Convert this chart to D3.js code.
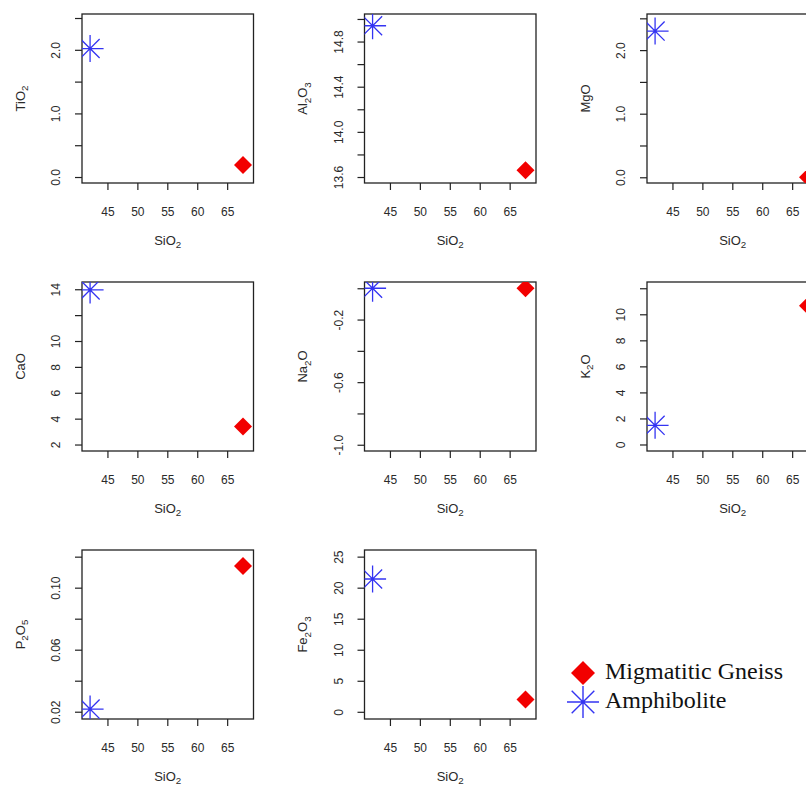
<!DOCTYPE html>
<html>
<head>
<meta charset="utf-8">
<script src="https://cdn.jsdelivr.net/npm/d3@7"></script>
<style>
  body { margin: 0; background: #fff; }
  svg { display: block; }
  text { font-family: "Liberation Sans", Arial, sans-serif; fill: #2a2a2a; }
  .axis path, .axis line { stroke: #222; stroke-width: 1.2; }
  .box { fill: none; stroke: #222; stroke-width: 1.3; }
  .legend text { font-family: "Liberation Serif", "Times New Roman", serif; fill: #111; }
</style>
</head>
<body>
<svg id="chart"></svg>
<script>
// whole-rock analyses (wt%)
const oxides = ["TiO2", "Al2O3", "MgO", "CaO", "Na2O", "K2O", "P2O5", "Fe2O3"];
const rockTypes = ["Migmatitic Gneiss", "Amphibolite"];
const silica = [67.65, 42.1];
const gneiss = [0.19, 13.66, 0.0, 3.4, 0.0, 10.65, 0.114, 2.0];
const amphibolite = [2.02, 14.94, 2.3, 13.95, 0.0, 1.47, 0.0217, 21.4];

// axis limits and ticks
const silicaRange = [40.75, 69.4];
const silicaTicks = [45, 50, 55, 60, 65];
const oxideRanges = [
  [-0.094, 2.563], [13.547, 15.044], [-0.09, 2.568], [1.5, 14.56],
  [-1.04, 0.04], [-0.5, 12.48], [0.0153, 0.1243], [-1.16, 26.07]
];
const oxideTicks = [
  [0, 0.5, 1, 1.5, 2, 2.5],
  [13.6, 13.8, 14, 14.2, 14.4, 14.6, 14.8, 15],
  [0, 0.5, 1, 1.5, 2, 2.5],
  [2, 4, 6, 8, 10, 12, 14],
  [-1, -0.8, -0.6, -0.4, -0.2, 0],
  [0, 2, 4, 6, 8, 10, 12],
  [0.02, 0.04, 0.06, 0.08, 0.1, 0.12],
  [0, 5, 10, 15, 20, 25]
];
const oxideTickLabels = [
  ["0.0", "", "1.0", "", "2.0", ""],
  ["13.6", "", "14.0", "", "14.4", "", "14.8", ""],
  ["0.0", "", "1.0", "", "2.0", ""],
  ["2", "4", "6", "8", "10", "", "14"],
  ["-1.0", "", "-0.6", "", "-0.2", ""],
  ["0", "2", "4", "6", "8", "10", ""],
  ["0.02", "", "0.06", "", "0.10", ""],
  ["0", "5", "10", "15", "20", "25"]
];

const W = 806, H = 789;
const svg = d3.select("#chart").attr("width", W).attr("height", H);
svg.append("rect").attr("width", W).attr("height", H).attr("fill", "#fff");

const boxW = 171.5, boxH = 169;
const colStep = 282.5, rowStep = 268;
const left0 = 82, top0 = 14;
const colors = ["#f20000", "#3434f2"];

const diamond = (r) => `M0,${-r}L${r},0L0,${r}L${-r},0Z`;
const star = (r) => {
  const a = r * 0.7071;
  return `M${-r},0H${r}M0,${-r}V${r}M${-a},${-a}L${a},${a}M${-a},${a}L${a},${-a}`;
};

// chemical formula with subscripted digits, vertically centred on the anchor
function formula(sel, name, size) {
  let shift = -size * 0.35;
  name.split(/(\d+)/).filter((s) => s).forEach((part) => {
    const sub = /^\d+$/.test(part);
    const dy = sub ? size * 0.3 : -shift;
    shift = sub ? size * 0.3 : 0;
    sel.append("tspan")
      .attr("font-size", sub ? size * 0.75 : size)
      .attr("dy", dy)
      .text(part);
  });
}

const x = d3.scaleLinear().domain(silicaRange).range([0, boxW]);

oxides.forEach((ox, i) => {
  const col = i % 3, row = Math.floor(i / 3);
  const g = svg.append("g")
    .attr("transform", `translate(${left0 + col * colStep},${top0 + row * rowStep})`);
  const y = d3.scaleLinear().domain(oxideRanges[i]).range([boxH, 0]);

  g.append("clipPath").attr("id", "clip" + i)
    .append("rect").attr("width", boxW).attr("height", boxH);

  // x axis
  const xa = g.append("g").attr("class", "axis")
    .attr("transform", `translate(0,${boxH})`)
    .call(d3.axisBottom(x).tickValues(silicaTicks).tickSize(7).tickSizeOuter(0));
  xa.select(".domain").remove();
  xa.selectAll("text").attr("y", 29).attr("dy", "0.35em").attr("font-size", 12).attr("fill", "#2a2a2a");

  // y axis, labels parallel to the axis; skipped labels are dropped
  const ya = g.append("g").attr("class", "axis")
    .call(d3.axisLeft(y).tickValues(oxideTicks[i]).tickSize(7).tickSizeOuter(0)
      .tickFormat((d, k) => oxideTickLabels[i][k]));
  ya.select(".domain").remove();
  ya.selectAll("text").filter(function () { return this.textContent === ""; }).remove();
  ya.selectAll("text")
    .attr("x", 0).attr("y", 0).attr("dy", "0.35em")
    .attr("transform", "translate(-26,0) rotate(-90)")
    .attr("text-anchor", "middle").attr("font-size", 12).attr("fill", "#2a2a2a");

  g.append("rect").attr("class", "box").attr("width", boxW).attr("height", boxH);

  // axis titles
  const xt = g.append("text").attr("x", boxW / 2).attr("y", boxH + 57)
    .attr("text-anchor", "middle").attr("font-size", 13);
  formula(xt, "SiO2", 13);
  const yt = g.append("text")
    .attr("transform", `translate(-62,${boxH / 2}) rotate(-90)`)
    .attr("text-anchor", "middle").attr("font-size", 13);
  formula(yt, ox, 13);

  // points
  const pts = g.append("g").attr("clip-path", `url(#clip${i})`);
  pts.append("path")
    .attr("transform", `translate(${x(silica[0])},${y(gneiss[i])})`)
    .attr("d", diamond(9)).attr("fill", colors[0]);
  pts.append("path")
    .attr("transform", `translate(${x(silica[1])},${y(amphibolite[i])})`)
    .attr("d", star(13.5)).attr("fill", "none").attr("stroke", colors[1]).attr("stroke-width", 1.3);
});

// legend
const lg = svg.append("g").attr("class", "legend").attr("transform", "translate(583,673)");
rockTypes.forEach((name, k) => {
  const row = lg.append("g").attr("transform", `translate(0,${k * 29})`);
  if (k === 0) {
    row.append("path").attr("d", diamond(12)).attr("fill", colors[0]);
  } else {
    row.append("path").attr("d", star(16)).attr("fill", "none")
      .attr("stroke", colors[1]).attr("stroke-width", 1.4);
  }
  row.append("text").attr("x", 22).attr("y", 6).attr("font-size", 24).text(name);
});
</script>
</body>
</html>
